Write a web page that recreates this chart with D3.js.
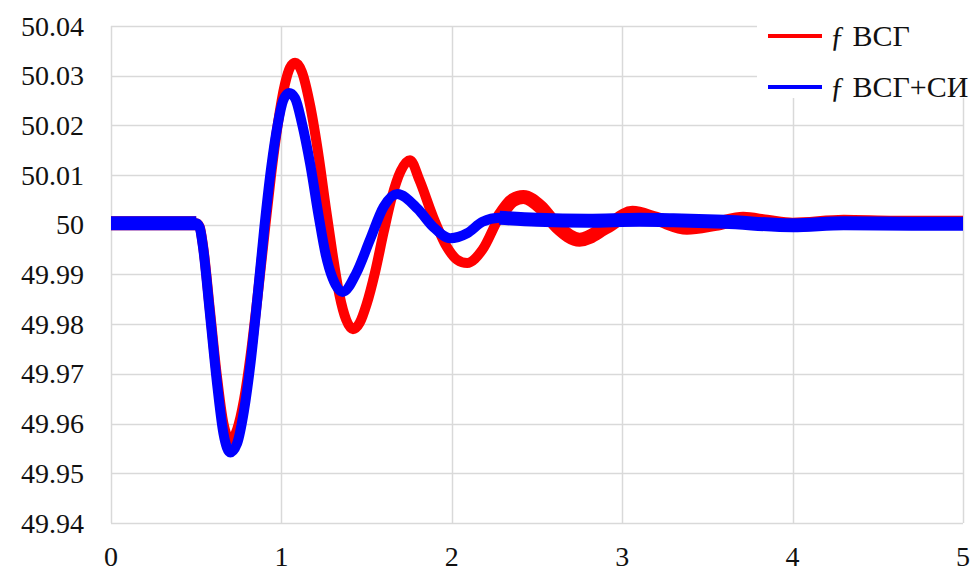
<!DOCTYPE html>
<html>
<head>
<meta charset="utf-8">
<script src="https://cdn.jsdelivr.net/npm/d3@7"></script>
<style>
  body { margin: 0; background: #fff; }
  svg text { font-family: "Liberation Serif"; }
</style>
</head>
<body>
<svg id="chart" width="975" height="574"></svg>
<script>
// values (time in s, frequency in Hz)
const xTicks = [0, 1, 2, 3, 4, 5];
const yTicks = [49.94, 49.95, 49.96, 49.97, 49.98, 49.99, 50, 50.01, 50.02, 50.03, 50.04];
const yTickLabels = ["49.94", "49.95", "49.96", "49.97", "49.98", "49.99", "50", "50.01", "50.02", "50.03", "50.04"];

const redT = [0, 0.25, 0.5, 0.52, 0.54, 0.58, 0.62, 0.66, 0.70, 0.74, 0.78, 0.82, 0.86, 0.90, 0.94, 0.98, 1.02, 1.05, 1.08, 1.12, 1.17, 1.22, 1.26, 1.30, 1.34, 1.38, 1.42, 1.46, 1.50, 1.55, 1.60, 1.65, 1.70, 1.755, 1.81, 1.89, 1.97, 2.03, 2.09, 2.18, 2.28, 2.36, 2.42, 2.52, 2.62, 2.75, 2.91, 3.06, 3.2, 3.38, 3.55, 3.71, 3.85, 4.0, 4.3, 4.6, 5.0];
const redV = [50.0003, 50.0003, 50.0003, 49.9996, 49.9958, 49.9830, 49.9700, 49.9600, 49.9567, 49.9588, 49.9647, 49.9739, 49.9855, 49.9980, 50.0102, 50.0205, 50.0282, 50.0316, 50.0326, 50.0308, 50.0238, 50.0135, 50.0036, 49.9942, 49.9860, 49.9809, 49.9790, 49.9803, 49.9840, 49.9905, 49.9985, 50.0058, 50.0108, 50.0130, 50.0090, 50.0016, 49.9956, 49.9930, 49.9923, 49.9950, 50.0016, 50.0050, 50.0056, 50.0036, 49.9996, 49.9970, 49.9996, 50.0024, 50.0012, 49.9994, 50.0002, 50.0012, 50.0006, 50.0000, 50.0006, 50.0004, 50.0004];

const blueT = [0, 0.25, 0.5, 0.52, 0.54, 0.58, 0.62, 0.66, 0.70, 0.74, 0.78, 0.82, 0.86, 0.90, 0.94, 0.98, 1.01, 1.045, 1.08, 1.12, 1.17, 1.22, 1.26, 1.30, 1.36, 1.44, 1.52, 1.60, 1.68, 1.80, 1.89, 1.99, 2.09, 2.18, 2.28, 2.5, 2.8, 3.1, 3.3, 3.6, 4.0, 4.3, 4.7, 5.0];
const blueV = [50.0003, 50.0003, 50.0003, 49.9995, 49.9955, 49.9823, 49.9688, 49.9580, 49.9542, 49.9560, 49.9625, 49.9725, 49.9855, 49.9995, 50.0115, 50.0205, 50.0250, 50.0265, 50.0255, 50.0205, 50.0120, 50.0015, 49.9940, 49.9893, 49.9865, 49.9903, 49.9970, 50.0036, 50.0062, 50.0032, 49.9996, 49.9973, 49.9983, 50.0006, 50.0014, 50.0010, 50.0008, 50.0010, 50.0009, 50.0006, 49.9999, 50.0003, 50.0002, 50.0002];

const seriesNames = ["ƒ ВСГ", "ƒ ВСГ+СИ"];
const seriesColors = ["#ff0000", "#0000ff"];

const svg = d3.select("#chart");
const margin = { top: 26, right: 12, bottom: 51, left: 111 };
const width = 975 - margin.left - margin.right;
const height = 574 - margin.top - margin.bottom;

const x = d3.scaleLinear().domain([0, 5]).range([margin.left, margin.left + width]);
const y = d3.scaleLinear().domain([49.94, 50.04]).range([margin.top + height, margin.top]);

const grid = svg.append("g");
grid.selectAll("line.h")
  .data(yTicks)
  .join("line")
  .attr("class", "h")
  .attr("x1", x(0)).attr("x2", x(5))
  .attr("y1", d => Math.round(y(d)) + 0.5).attr("y2", d => Math.round(y(d)) + 0.5)
  .attr("stroke", "#d9d9d9").attr("stroke-width", 1.5);
grid.selectAll("line.v")
  .data(xTicks)
  .join("line")
  .attr("class", "v")
  .attr("x1", d => Math.round(x(d)) + 0.5).attr("x2", d => Math.round(x(d)) + 0.5)
  .attr("y1", y(49.94)).attr("y2", y(50.04))
  .attr("stroke", "#d9d9d9").attr("stroke-width", 1.5);

// y labels
svg.append("g").selectAll("text")
  .data(yTicks)
  .join("text")
  .attr("x", 84)
  .attr("y", d => y(d) + 9.5)
  .attr("text-anchor", "end")
  .style("font-size", "28px")
  .attr("fill", "#111")
  .text((d, i) => yTickLabels[i]);

// x labels
svg.append("g").selectAll("text")
  .data(xTicks)
  .join("text")
  .attr("x", d => x(d))
  .attr("y", 566)
  .attr("text-anchor", "middle")
  .style("font-size", "28px")
  .attr("fill", "#111")
  .text(d => d);

const line = d3.line()
  .x(d => x(d[0]))
  .y(d => y(d[1]))
  .curve(d3.curveMonotoneX);

const redData = redT.map((t, i) => [t, redV[i]]);
const blueData = blueT.map((t, i) => [t, blueV[i]]);

// thick noisy band where the signal is flat, thinner stroke in the swing
function drawSeries(data, color) {
  svg.append("path")
    .datum(data.filter(d => d[0] <= 0.5))
    .attr("d", line)
    .attr("fill", "none")
    .attr("stroke", color)
    .attr("stroke-width", 14);
  svg.append("path")
    .datum(data.filter(d => d[0] >= 2.2))
    .attr("d", line)
    .attr("fill", "none")
    .attr("stroke", color)
    .attr("stroke-width", 14);
  svg.append("path")
    .datum(data)
    .attr("d", line)
    .attr("fill", "none")
    .attr("stroke", color)
    .attr("stroke-width", 10)
    .attr("stroke-linejoin", "round");
}
drawSeries(redData, seriesColors[0]);
drawSeries(blueData, seriesColors[1]);

// legend
const legend = svg.append("g");
legend.append("rect")
  .attr("x", 757).attr("y", 8).attr("width", 218).attr("height", 90)
  .attr("fill", "#fff");
const rows = legend.selectAll("g.row")
  .data(seriesNames)
  .join("g")
  .attr("class", "row")
  .attr("transform", (d, i) => `translate(0, ${36 + i * 51})`);
rows.append("line")
  .attr("x1", 768).attr("x2", 822)
  .attr("stroke", (d, i) => seriesColors[i])
  .attr("stroke-width", 4);
rows.append("text")
  .attr("x", 830)
  .attr("y", 10)
  .style("font-size", "30px")
  .attr("fill", "#111")
  .text(d => d);
</script>
</body>
</html>
